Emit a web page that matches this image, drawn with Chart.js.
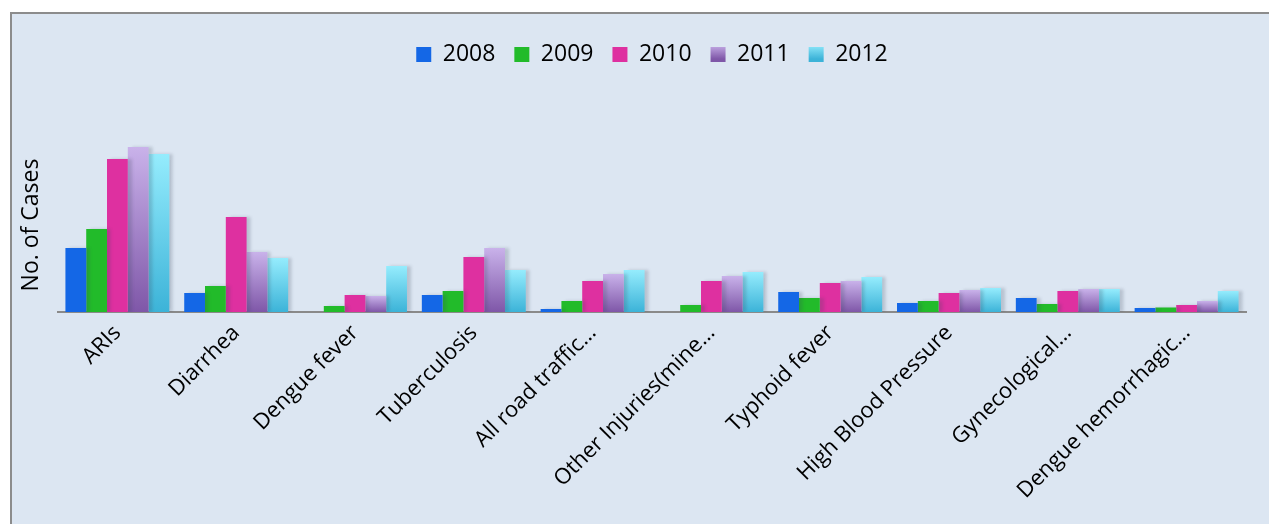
<!DOCTYPE html>
<html>
<head>
<meta charset="utf-8">
<script src="https://cdn.jsdelivr.net/npm/chart.js@4.4.1/dist/chart.umd.min.js"></script>
<style>
    html, body { margin: 0; padding: 0; background: #ffffff; overflow: hidden; }
    #wrap {
        position: absolute;
        left: 10px;
        top: 12px;
        width: 1257px;
        height: 510px;
        background: #dce6f2;
        border-left: 2px solid #8c8c8c;
        border-top: 2px solid #8c8c8c;
    }
</style>
</head>
<body>
<div id="wrap"><canvas id="casesChart"></canvas></div>
<script>
// Categories and yearly values
const categories = ['ARIs', 'Diarrhea', 'Dengue fever', 'Tuberculosis', 'All road traffic…',
    'Other Injuries(mine…', 'Typhoid fever', 'High Blood Pressure', 'Gynecological…', 'Dengue hemorrhagic…'];
const years = ['2008', '2009', '2010', '2011', '2012'];
const cases2008 = [640, 190, 0, 170, 30, 0, 200, 90, 140, 40];
const cases2009 = [830, 260, 60, 210, 110, 70, 140, 110, 80, 45];
const cases2010 = [1530, 950, 170, 550, 310, 310, 290, 190, 210, 70];
const cases2011 = [1650, 600, 160, 640, 380, 360, 310, 220, 230, 110];
const cases2012 = [1580, 540, 460, 420, 420, 400, 350, 240, 230, 210];
const yMax = 1740;

// per-bar vertical gradient
function barGradient(top, bottom) {
    return function (ctx) {
        const chart = ctx.chart;
        if (!chart.chartArea || ctx.type !== 'data') return top;
        const ys = chart.scales.y;
        const v = ctx.raw || 0;
        const y0 = ys.getPixelForValue(v);
        const y1 = ys.getPixelForValue(0);
        if (y1 - y0 < 1) return bottom;
        const g = chart.ctx.createLinearGradient(0, y0, 0, y1);
        g.addColorStop(0, top);
        g.addColorStop(1, bottom);
        return g;
    };
}

const barShadow = {
    id: 'barShadow',
    beforeDatasetsDraw(chart) {
        const c = chart.ctx;
        c.save();
        c.shadowColor = 'rgba(60, 70, 90, 0.22)';
        c.shadowBlur = 3;
        c.shadowOffsetX = 4;
        c.shadowOffsetY = 0;
    },
    afterDatasetsDraw(chart) {
        chart.ctx.restore();
    }
};

const ctx = document.getElementById('casesChart');
new Chart(ctx, {
    type: 'bar',
    data: {
        labels: categories,
        datasets: [
            { label: years[0], data: cases2008, backgroundColor: '#1467e6' },
            { label: years[1], data: cases2009, backgroundColor: '#22bb2a' },
            { label: years[2], data: cases2010, backgroundColor: '#de30a0' },
            { label: years[3], data: cases2011, backgroundColor: barGradient('#c9b2ea', '#7f57a8') },
            { label: years[4], data: cases2012, backgroundColor: barGradient('#95ecfd', '#3cb3d8') }
        ]
    },
    options: {
        responsive: true,
        maintainAspectRatio: false,
        animation: false,
        categoryPercentage: 0.875,
        barPercentage: 1.0,
        layout: {
            padding: { top: 10, right: 23, bottom: 0, left: 0 }
        },
        scales: {
            x: {
                grid: { display: false, drawTicks: false },
                border: { display: true, color: '#8a8a8a', width: 2 },
                ticks: {
                    color: '#000',
                    minRotation: 45,
                    maxRotation: 45,
                    autoSkip: false,
                    padding: 8,
                    font: { family: 'Open Sans', size: 22 }
                },
                afterFit: function (scale) { scale.height = 212; }
            },
            y: {
                beginAtZero: true,
                max: yMax,
                grid: { display: false, drawTicks: false },
                border: { display: false },
                ticks: { display: false },
                title: {
                    display: true,
                    text: 'No. of Cases',
                    color: '#000',
                    padding: { top: 6, bottom: 0 },
                    font: { family: 'Open Sans', size: 23 }
                },
                afterFit: function (scale) { scale.width = 46; }
            }
        },
        plugins: {
            legend: {
                position: 'top',
                fullSize: false,
                labels: {
                    color: '#000',
                    boxWidth: 15,
                    boxHeight: 15,
                    padding: 19,
                    font: { family: 'Open Sans', size: 23 },
                    generateLabels: function (chart) {
                        const items = Chart.defaults.plugins.legend.labels.generateLabels(chart);
                        const stops = [null, null, null, ['#c9b2ea', '#7f57a8'], ['#95ecfd', '#3cb3d8']];
                        items.forEach(function (it, i) {
                            it.lineWidth = 0;
                            it.strokeStyle = 'rgba(0,0,0,0)';
                            if (stops[i]) {
                                const g = chart.ctx.createLinearGradient(0, 30, 0, 45);
                                g.addColorStop(0, stops[i][0]);
                                g.addColorStop(1, stops[i][1]);
                                it.fillStyle = g;
                            }
                        });
                        return items;
                    }
                }
            },
            title: {
                display: true,
                text: ' ',
                weight: 500,
                padding: { top: 0, bottom: 50 },
                font: { size: 10 }
            },
            tooltip: { enabled: false }
        }
    },
    plugins: [barShadow]
});
</script>
</body>
</html>
